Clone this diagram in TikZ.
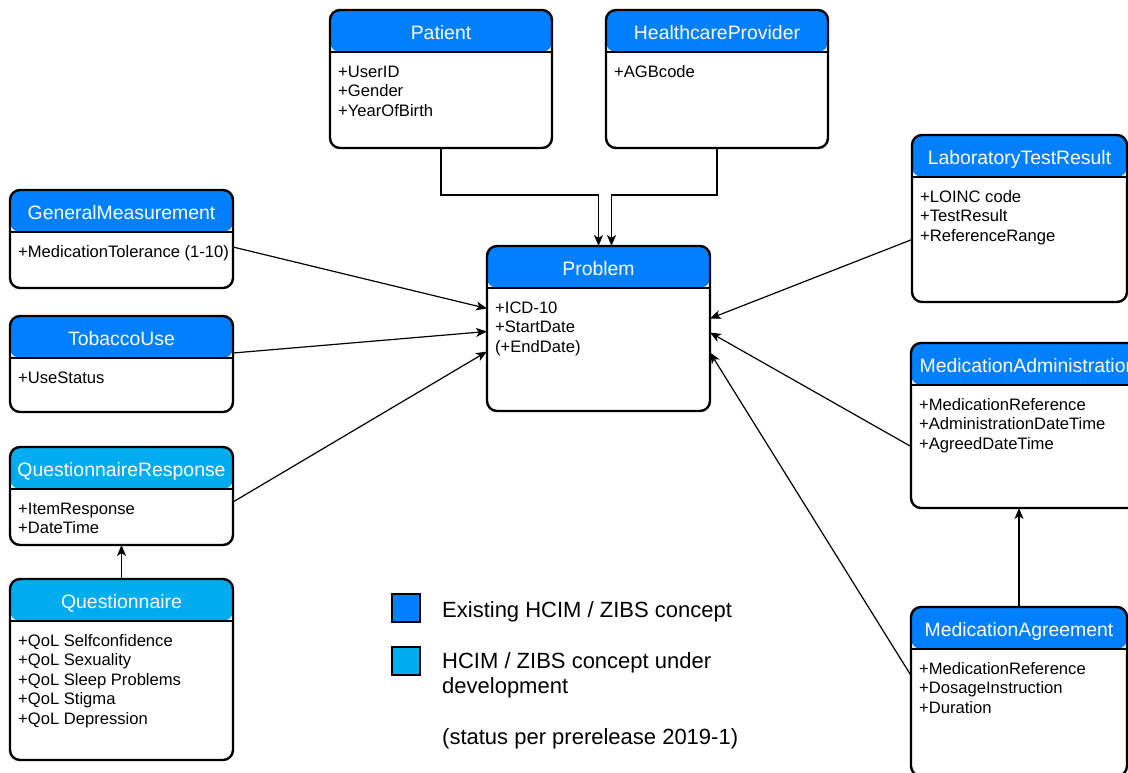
\documentclass[tikz,border=0pt]{standalone}
\usepackage{fontspec}
\setmainfont{Liberation Sans}
\usetikzlibrary{arrows.meta}

\definecolor{zibblue}{RGB}{0,127,255}
\definecolor{zibcyan}{RGB}{0,172,240}

\tikzset{
    zibbox/.style={draw, line width=2.4pt, rounded corners=10pt, inner sep=0pt, outer sep=0pt},
    zibtitle/.style={text=white, font=\fontsize{19.4}{23}\selectfont, anchor=base, inner sep=0pt},
    zibattr/.style={font=\fontsize{16.6}{19.5}\selectfont, anchor=base west, inner sep=0pt},
    assoc/.style={-{Stealth[length=11pt,width=9pt,inset=3pt]}, line width=1.2pt},
    legendbox/.style={draw, line width=1.2pt, minimum size=28pt, inner sep=0pt},
    legendtext/.style={font=\fontsize{22}{25.5}\selectfont, anchor=base west, inner sep=0pt},
}

% lines stacked from the first baseline down
\newcommand{\lines}[1]{\begin{tabular}[t]{@{}l@{}}#1\end{tabular}}

% \zib{name}{x1}{y1}{x2}{y2}{header colour}{title}{attributes}
\newcommand{\zib}[8]{%
    \node[zibbox, minimum width={(#4-#2)*1pt}, minimum height={(#5-#3)*1pt},
        path picture={
            \fill[#6] (path picture bounding box.north west) rectangle ([yshift=-42pt]path picture bounding box.north east);
            \draw[line width=2.4pt] ([yshift=-42pt]path picture bounding box.north west) -- ([yshift=-42pt]path picture bounding box.north east);
        }] (#1) at ({(#2+#4)/2},{(#3+#5)/2}) {};
    \node[zibtitle] (#1-title) at ([yshift=-29pt]#1.north) {#7};
    \node[zibattr] (#1-attr) at ([xshift=8pt,yshift=-67pt]#1.north west) {\lines{#8}};
}

\begin{document}
\begin{tikzpicture}[x=1pt, y=-1pt]
    \useasboundingbox (0,0) rectangle (1128,772);

    % top row
    \zib{patient}{330}{10}{552}{148}{zibblue}{Patient}{+UserID\\+Gender\\+YearOfBirth}
    \zib{provider}{606}{10}{828}{148}{zibblue}{HealthcareProvider}{+AGBcode}
    \zib{problem}{487}{246}{710}{411}{zibblue}{Problem}{+ICD-10\\+StartDate\\(+EndDate)}

    % left column
    \zib{measure}{10}{190}{233}{288}{zibblue}{GeneralMeasurement}{+MedicationTolerance (1-10)}
    \zib{tobacco}{10}{316}{233}{412}{zibblue}{TobaccoUse}{+UseStatus}
    \zib{qresponse}{10}{447}{233}{545}{zibcyan}{QuestionnaireResponse}{+ItemResponse\\+DateTime}
    \zib{quest}{10}{579}{233}{760}{zibcyan}{Questionnaire}{+QoL Selfconfidence\\+QoL Sexuality\\+QoL Sleep Problems\\+QoL Stigma\\+QoL Depression}

    % right column
    \zib{labresult}{912}{135}{1127}{302}{zibblue}{LaboratoryTestResult}{+LOINC code\\+TestResult\\+ReferenceRange}
    \zib{medadmin}{911}{343}{1145}{508}{zibblue}{MedicationAdministration}{+MedicationReference\\+AdministrationDateTime\\+AgreedDateTime}
    \zib{medagree}{911}{607}{1127}{776}{zibblue}{MedicationAgreement}{+MedicationReference\\+DosageInstruction\\+Duration}

    % connectors
    \draw[assoc] (patient.south) -- ++(0,47) -| (problem.north);
    \draw[assoc] (provider.south) -- ++(0,47) -| ([xshift=13pt]problem.north);
    \draw[assoc] ([yshift=-8pt]measure.east) -- ([yshift=20pt]problem.west);
    \draw[assoc] ([yshift=11pt]tobacco.east) -- ([yshift=-3pt]problem.west);
    \draw[assoc] ([yshift=-6pt]qresponse.east) -- ([yshift=-23pt]problem.west);
    \draw[assoc] (quest.north) -- (qresponse.south);
    \draw[assoc] ([yshift=-21pt]labresult.west) -- ([yshift=10pt]problem.east);
    \draw[assoc] ([yshift=-21pt]medadmin.west) -- ([yshift=-4pt]problem.east);
    \draw[assoc] ([yshift=16pt]medagree.west) -- ([yshift=-24pt]problem.east);
    \draw[assoc] (medagree.north) -- (medagree.north |- medadmin.south);

    % legend
    \node[legendbox, fill=zibblue] (legexist) at (406,608) {};
    \node[legendbox, fill=zibcyan] (legdevel) at (406,661) {};
    \node[legendtext] (legtext) at (442,617) {\lines{Existing HCIM / ZIBS concept\\ \\HCIM / ZIBS concept under\\development\\ \\(status per prerelease 2019-1)}};
\end{tikzpicture}
\end{document}
